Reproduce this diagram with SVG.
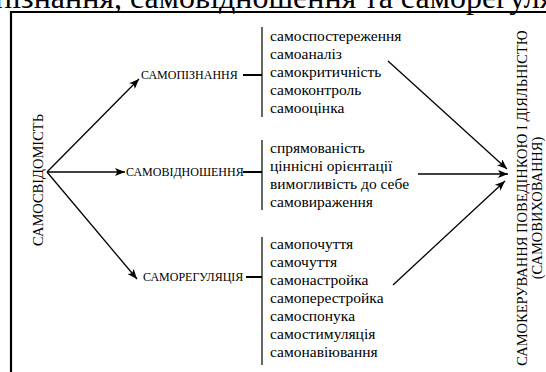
<svg xmlns="http://www.w3.org/2000/svg" width="546" height="372" viewBox="0 0 546 372">
  <defs>
    <style>
      .frame { stroke: #000; stroke-width: 2.2; fill: none; }
      .link { stroke: #000; stroke-width: 1.3; fill: none; }
      .bracket { stroke: #000; stroke-width: 1.2; fill: none; }
      .tick { stroke: #000; stroke-width: 2; fill: none; }
      .cap { font-family: "Liberation Serif", "Times New Roman", serif; font-size: 12px; fill: #000; }
      .item { font-family: "Liberation Serif", "Times New Roman", serif; font-size: 15.5px; fill: #000; }
      .side { font-family: "Liberation Serif", "Times New Roman", serif; font-size: 14.5px; fill: #000; text-anchor: middle; }
      .title { font-family: "Liberation Serif", "Times New Roman", serif; font-size: 32px; fill: #000; }
    </style>
    <marker id="head" viewBox="0 0 10 8" refX="10" refY="4" markerWidth="11" markerHeight="8" markerUnits="userSpaceOnUse" orient="auto">
      <path d="M0,0 L10,4 L0,8 L2.5,4 Z" fill="#000"/>
    </marker>
  </defs>

  <!-- caption line above the frame -->
  <text class="title" x="-70" y="8">самопізнання, самовідношення та саморегуляції</text>

  <!-- frame -->
  <path class="frame" d="M11,372 V12 H546"/>

  <!-- root -->
  <g id="self-awareness">
    <text class="side" transform="translate(43,180) rotate(-90)">САМОСВІДОМІСТЬ</text>
  </g>

  <!-- branch: self-knowledge -->
  <g id="self-knowledge">
    <text class="cap" x="141" y="79">САМОПІЗНАННЯ</text>
    <line class="tick" x1="243" y1="75" x2="262" y2="75"/>
    <line class="bracket" x1="262" y1="27" x2="262" y2="117"/>
    <text class="item" x="270" y="41">самоспостереження</text>
    <text class="item" x="270" y="59">самоаналіз</text>
    <text class="item" x="270" y="77">самокритичність</text>
    <text class="item" x="270" y="95">самоконтроль</text>
    <text class="item" x="270" y="113">самооцінка</text>
  </g>

  <!-- branch: self-attitude -->
  <g id="self-attitude">
    <text class="cap" x="126" y="176">САМОВІДНОШЕННЯ</text>
    <line class="tick" x1="243" y1="172" x2="262" y2="172"/>
    <line class="bracket" x1="262" y1="140" x2="262" y2="210"/>
    <text class="item" x="270" y="153">спрямованість</text>
    <text class="item" x="270" y="171">ціннісні орієнтації</text>
    <text class="item" x="270" y="189">вимогливість до себе</text>
    <text class="item" x="270" y="207">самовираження</text>
  </g>

  <!-- branch: self-regulation -->
  <g id="self-regulation">
    <text class="cap" x="143" y="281">САМОРЕГУЛЯЦІЯ</text>
    <line class="tick" x1="246" y1="277" x2="262" y2="277"/>
    <line class="bracket" x1="262" y1="237" x2="262" y2="365"/>
    <text class="item" x="270" y="249">самопочуття</text>
    <text class="item" x="270" y="267">самочуття</text>
    <text class="item" x="270" y="285">самонастройка</text>
    <text class="item" x="270" y="303">самоперестройка</text>
    <text class="item" x="270" y="321">самоспонука</text>
    <text class="item" x="270" y="339">самостимуляція</text>
    <text class="item" x="270" y="357">самонавіювання</text>
  </g>

  <!-- outcome -->
  <g id="self-management">
    <text class="side" transform="translate(527,198) rotate(-90)">САМОКЕРУВАННЯ ПОВЕДІНКОЮ І ДІЯЛЬНІСТЮ</text>
    <text class="side" transform="translate(542,208) rotate(-90)">(САМОВИХОВАННЯ)</text>
  </g>

  <!-- connectors -->
  <g id="connectors">
    <line class="link" x1="47" y1="172" x2="139" y2="79" marker-end="url(#head)"/>
    <line class="link" x1="47" y1="172" x2="125" y2="172" marker-end="url(#head)"/>
    <line class="link" x1="47" y1="172" x2="137" y2="279" marker-end="url(#head)"/>
    <line class="link" x1="388" y1="61" x2="507" y2="169" marker-end="url(#head)"/>
    <line class="link" x1="418" y1="174" x2="508" y2="174" marker-end="url(#head)"/>
    <line class="link" x1="393" y1="285" x2="505" y2="181" marker-end="url(#head)"/>
  </g>
</svg>
